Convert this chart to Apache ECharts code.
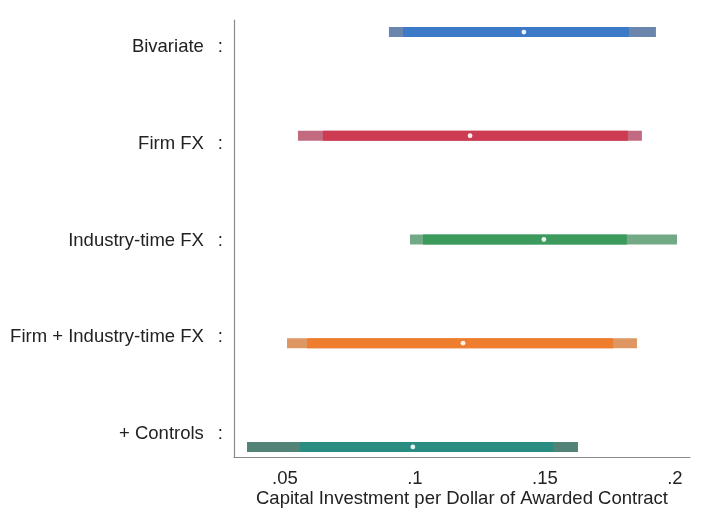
<!DOCTYPE html>
<html>
<head>
<meta charset="utf-8">
<script src="https://cdn.jsdelivr.net/npm/echarts@6/dist/echarts.min.js"></script>
<style>
  html, body { margin: 0; padding: 0; background: #ffffff; }
  #chart { width: 704px; height: 513px; }
</style>
</head>
<body>
<div id="chart"></div>
<script>
// Model specifications, top to bottom
const categories = ['Bivariate', 'Firm FX', 'Industry-time FX', 'Firm + Industry-time FX', '+ Controls'];
// Point estimates
const estimates = [0.1419, 0.1212, 0.1496, 0.1185, 0.0992];
// Inner confidence band
const lower95 = [0.0954, 0.0646, 0.1031, 0.0585, 0.0558];
const upper95 = [0.1823, 0.1819, 0.1815, 0.1762, 0.1531];
// Outer confidence band
const lower99 = [0.0900, 0.0550, 0.0981, 0.0508, 0.0354];
const upper99 = [0.1927, 0.1873, 0.2008, 0.1854, 0.1627];
// X-axis tick values
const xTicks = [0.05, 0.1, 0.15, 0.2];

const mainColors = ['#3c7ac8', '#cc3b52', '#3b9a5c', '#ef7d2e', '#2a8c80'];
const outerColors = ['#6a86ac', '#c26a80', '#72aa86', '#de9662', '#538276'];

const rows = categories.map((c, i) => [i + 1, estimates[i], lower95[i], upper95[i], lower99[i], upper99[i]]);

// Row labels sit on their own evenly spaced slots along the vertical scale
const labelSlots = categories.map((c, i) => +(1.145 + i * 0.9325).toFixed(4));

const FONT = 'Liberation Sans, Arial, sans-serif';
const FS = 18.5;
const chart = echarts.init(document.getElementById('chart'), null, { renderer: 'canvas' });

chart.setOption({
  backgroundColor: '#ffffff',
  animation: false,
  grid: { left: 234, right: 14, top: 20, bottom: 56, outerBoundsMode: 'none' },
  xAxis: {
    type: 'value',
    min: 0.0304,
    max: 0.2058,
    splitLine: { show: false },
    axisLine: { show: true, lineStyle: { color: '#8a8a8a', width: 1.2 } },
    axisTick: { show: false },
    axisLabel: {
      customValues: xTicks,
      margin: 12,
      color: '#222',
      fontFamily: FONT,
      fontSize: FS,
      formatter: v => String(v).replace(/^0/, '')
    },
    name: 'Capital Investment per Dollar of Awarded Contract',
    nameLocation: 'middle',
    nameGap: 32,
    nameMoveOverlap: false,
    nameTextStyle: { color: '#222', fontFamily: FONT, fontSize: FS }
  },
  yAxis: {
    type: 'value',
    inverse: true,
    min: 0.884,
    max: 5.097,
    splitLine: { show: false },
    axisLine: { show: true, lineStyle: { color: '#8a8a8a', width: 1.2 } },
    axisTick: { show: false },
    axisLabel: {
      customValues: labelSlots,
      margin: 11,
      formatter: v => {
        let k = 0;
        labelSlots.forEach((s, j) => { if (Math.abs(s - v) < Math.abs(labelSlots[k] - v)) k = j; });
        return '{n|' + categories[k] + '}{c|:}';
      },
      rich: {
        n: { color: '#222', fontFamily: FONT, fontSize: FS },
        c: { color: '#222', fontFamily: FONT, fontSize: FS, padding: [0, 0, 0, 14] }
      }
    }
  },
  series: [{
    type: 'custom',
    data: rows,
    encode: { x: [1, 2, 3, 4, 5], y: 0 },
    renderItem: function (params, api) {
      const i = params.dataIndex;
      const y = api.value(0);
      const h = 10;
      const p = api.coord([api.value(1), y]);
      const a99 = api.coord([api.value(4), y]);
      const b99 = api.coord([api.value(5), y]);
      const a95 = api.coord([api.value(2), y]);
      const b95 = api.coord([api.value(3), y]);
      return {
        type: 'group',
        children: [
          { type: 'rect', shape: { x: a99[0], y: p[1] - h / 2, width: b99[0] - a99[0], height: h },
            style: { fill: outerColors[i] } },
          { type: 'rect', shape: { x: a95[0], y: p[1] - h / 2, width: b95[0] - a95[0], height: h },
            style: { fill: mainColors[i] } },
          { type: 'circle', shape: { cx: p[0], cy: p[1], r: 2.4 },
            style: { fill: '#ffffff', opacity: 0.9 } }
        ]
      };
    }
  }]
});
</script>
</body>
</html>
